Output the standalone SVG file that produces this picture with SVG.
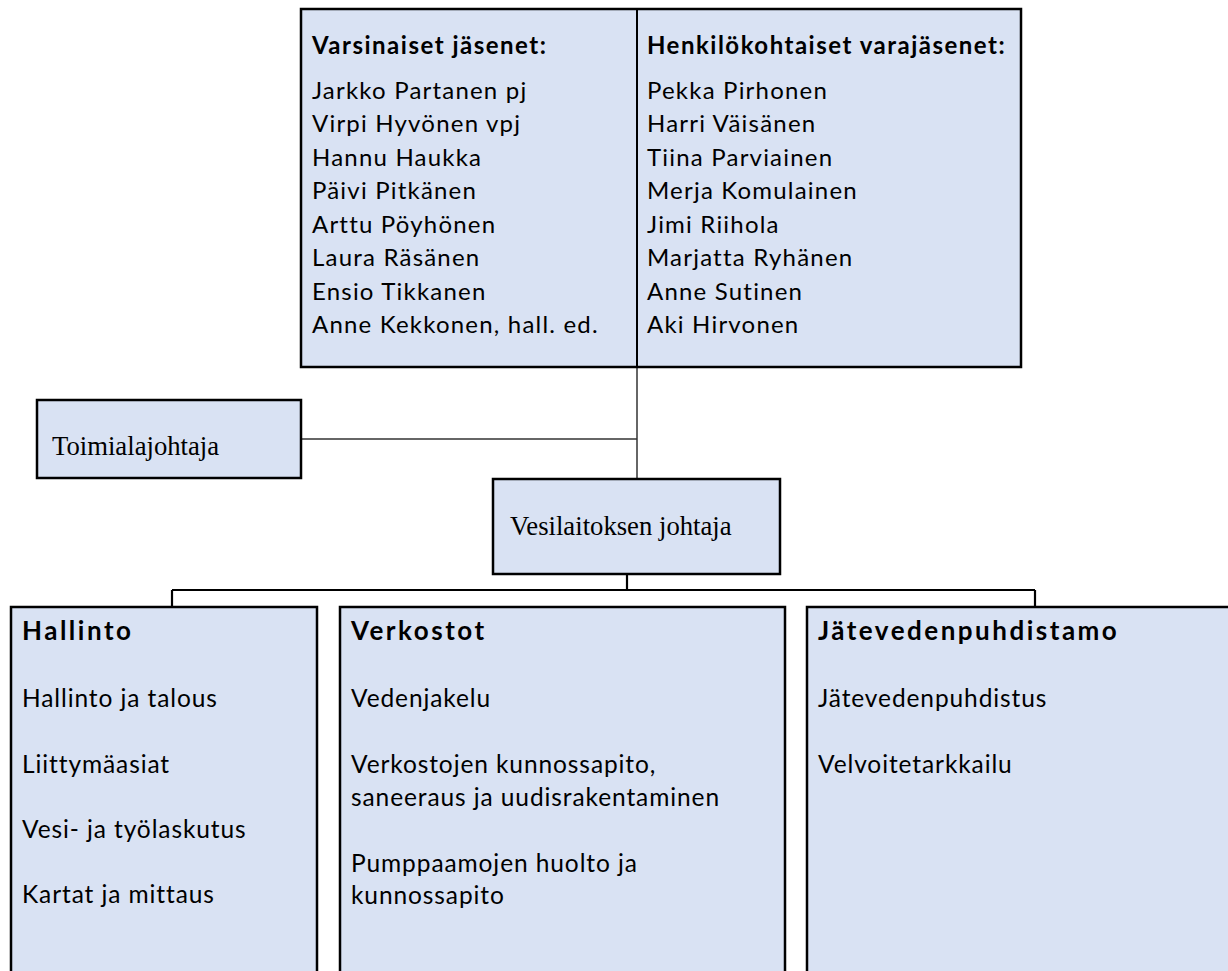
<svg xmlns="http://www.w3.org/2000/svg" width="1228" height="971" viewBox="0 0 1228 971">
<style>
.box{fill:#D9E2F3;stroke:#000;stroke-width:2.5}
.conn{fill:none;stroke:#000}
.thin{stroke-width:1.5;stroke:#333}
.thick{stroke-width:2.2}
.s{font-family:Lato,"Noto Sans",sans-serif;fill:#000}
.top{font-size:24px;letter-spacing:1.2px;font-weight:normal}
.topb{font-size:24px;letter-spacing:1.5px;font-weight:bold}
.bot{font-size:24.5px;letter-spacing:0.9px;font-weight:normal}
.botb{font-size:26px;letter-spacing:2.5px;font-weight:bold}
.serif{font-family:"Liberation Serif","Times New Roman",serif;font-size:26.7px;fill:#000}
</style>
<rect width="1228" height="971" fill="#fff"/>
<g id="connectors">
<path class="conn thin" d="M637,367 V481"/>
<path class="conn thin" d="M301,439 H637"/>
<path class="conn thick" d="M627,574 V590"/>
<path class="conn thick" d="M172,590 H1035"/>
<path class="conn thick" d="M172,590 V607"/>
<path class="conn thick" d="M1035,590 V607"/>
</g>
<g id="board">
<rect class="box" x="301" y="9" width="720" height="358"/>
<line x1="637" y1="9" x2="637" y2="367" stroke="#000" stroke-width="2"/>
<text class="s topb" x="312" y="54">Varsinaiset jäsenet:</text>
<g class="s top">
<text x="312" y="99">Jarkko Partanen pj</text>
<text x="312" y="132.4">Virpi Hyvönen vpj</text>
<text x="312" y="165.9">Hannu Haukka</text>
<text x="312" y="199.3">Päivi Pitkänen</text>
<text x="312" y="232.7">Arttu Pöyhönen</text>
<text x="312" y="266.1">Laura Räsänen</text>
<text x="312" y="299.6">Ensio Tikkanen</text>
<text x="312" y="333">Anne Kekkonen, hall. ed.</text>
</g>
<text class="s topb" x="647" y="54">Henkilökohtaiset varajäsenet:</text>
<g class="s top">
<text x="647" y="99">Pekka Pirhonen</text>
<text x="647" y="132.4">Harri Väisänen</text>
<text x="647" y="165.9">Tiina Parviainen</text>
<text x="647" y="199.3">Merja Komulainen</text>
<text x="647" y="232.7">Jimi Riihola</text>
<text x="647" y="266.1">Marjatta Ryhänen</text>
<text x="647" y="299.6">Anne Sutinen</text>
<text x="647" y="333">Aki Hirvonen</text>
</g>
</g>
<g id="toimialajohtaja">
<rect class="box" x="37" y="400" width="264" height="78"/>
<text class="serif" x="52" y="455">Toimialajohtaja</text>
</g>
<g id="vesilaitoksen-johtaja">
<rect class="box" x="493" y="479" width="287" height="95"/>
<text class="serif" x="510" y="535">Vesilaitoksen johtaja</text>
</g>
<g id="hallinto">
<rect class="box" x="11" y="607" width="306" height="380"/>
<text class="s botb" x="22" y="640">Hallinto</text>
<g class="s bot">
<text x="22" y="707">Hallinto ja talous</text>
<text x="22" y="773">Liittymäasiat</text>
<text x="22" y="838">Vesi- ja työlaskutus</text>
<text x="22" y="903">Kartat ja mittaus</text>
</g>
</g>
<g id="verkostot">
<rect class="box" x="340" y="607" width="445" height="380"/>
<text class="s botb" x="351" y="640">Verkostot</text>
<g class="s bot">
<text x="351" y="707">Vedenjakelu</text>
<text x="351" y="773">Verkostojen kunnossapito,</text>
<text x="351" y="806">saneeraus ja uudisrakentaminen</text>
<text x="351" y="872">Pumppaamojen huolto ja</text>
<text x="351" y="904">kunnossapito</text>
</g>
</g>
<g id="jatevedenpuhdistamo">
<rect class="box" x="807" y="607" width="440" height="380"/>
<text class="s botb" x="818" y="640">Jätevedenpuhdistamo</text>
<g class="s bot">
<text x="818" y="707">Jätevedenpuhdistus</text>
<text x="818" y="773">Velvoitetarkkailu</text>
</g>
</g>
</svg>
